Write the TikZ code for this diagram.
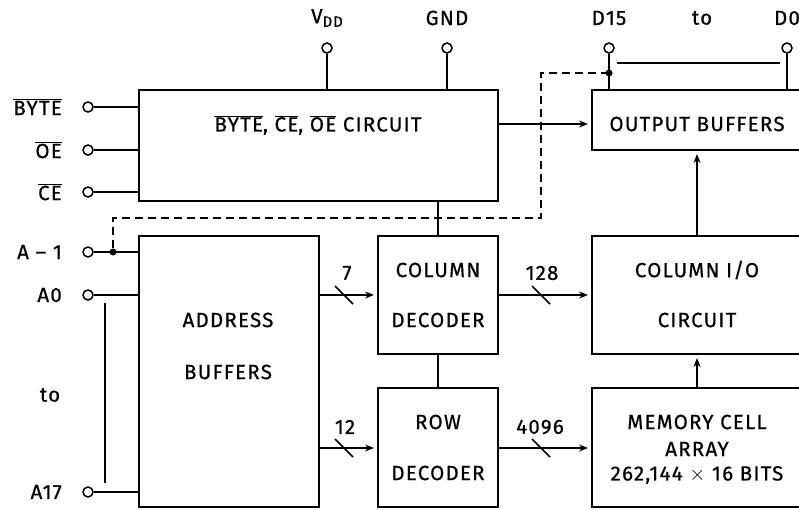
\documentclass[tikz,border=0pt]{standalone}
\usepackage{fontspec}
\setmainfont{Fira Sans}[LetterSpace=6,FakeBold=0.6]
\usetikzlibrary{arrows.meta,calc}
\newcommand{\olx}[1]{\ensuremath{\overline{\hbox{#1}}}}
\begin{document}
\begin{tikzpicture}[x=1pt,y=-1pt,
  every node/.style={font=\fontsize{20.5}{22}\selectfont},
  blk/.style={draw,line width=2pt,rectangle,inner sep=0pt},
  txt/.style={inner sep=0pt,anchor=center},
  lbl/.style={inner sep=0pt,anchor=east},
  pin/.style={draw,circle,fill=white,line width=1.5pt,minimum size=10pt,inner sep=0pt},
  wire/.style={line width=1.5pt},
  pinwire/.style={line width=2pt},
  arr/.style={line width=1.5pt,-{Stealth[length=9pt,width=7pt,inset=3pt]},shorten >=3pt},
  dashline/.style={line width=1.8pt,dash pattern=on 8pt off 5pt},
  slashmark/.style={line width=1.5pt},
  dot/.style={circle,fill=black,minimum size=7pt,inner sep=0pt}]
\useasboundingbox (0,0) rectangle (799,509);
\clip (0,0) rectangle (799,509);
\fill[white] (0,0) rectangle (799,509);

% blocks
\node[blk,minimum width=359pt,minimum height=111pt] (ctl) at (318.5,145.5) {};
\node[blk,minimum width=180pt,minimum height=271pt] (addr) at (229,371.5) {};
\node[blk,minimum width=120pt,minimum height=118pt] (cdec) at (438,295) {};
\node[blk,minimum width=120pt,minimum height=119pt] (rdec) at (438,447.5) {};
\node[blk,minimum width=210pt,minimum height=60pt] (obuf) at (697,120) {};
\node[blk,minimum width=210pt,minimum height=118pt] (cio) at (697,295) {};
\node[blk,minimum width=210pt,minimum height=119pt] (mem) at (697,447.5) {};

% block texts
\node[txt] (tctl) at (318,125) {\olx{BYTE}, \olx{CE}, \olx{OE} CIRCUIT};
\node[txt] (taddr1) at (228,320) {ADDRESS};
\node[txt] (taddr2) at (228,372) {BUFFERS};
\node[txt] (tcdec1) at (438,270) {COLUMN};
\node[txt] (tcdec2) at (438,320) {DECODER};
\node[txt] (trdec1) at (438,422) {ROW};
\node[txt] (trdec2) at (438,473) {DECODER};
\node[txt] (tobuf) at (697,124) {OUTPUT BUFFERS};
\node[txt] (tcio1) at (697,270) {COLUMN I/O};
\node[txt] (tcio2) at (697,320) {CIRCUIT};
\node[txt] (tmem1) at (697,422) {MEMORY CELL};
\node[txt] (tmem2) at (697,449) {ARRAY};
\node[txt] (tmem3) at (697,475) {262,144 $\times$ 16 BITS};

% top pins
\node[pin] (pvdd) at (327,48) {};
\node[pin] (pgnd) at (447,48) {};
\node[pin] (pd15) at (609,48) {};
\node[pin] (pd0) at (787,48) {};
\node[txt] (lvdd) at (327,18) {V\raisebox{-3.5pt}{\fontsize{15}{15}\selectfont DD}};
\node[txt] (lgnd) at (447,18) {GND};
\node[txt] (ld15) at (609,18) {D15};
\node[txt] (lto1) at (702,18) {to};
\node[txt] (ld0) at (787,18) {D0};
\draw[pinwire] (pvdd.south) -- (pvdd |- ctl.north);
\draw[pinwire] (pgnd.south) -- (pgnd |- ctl.north);
\draw[pinwire] (pd15.south) -- (pd15 |- obuf.north);
\draw[pinwire] (pd0.south) -- (pd0 |- obuf.north);
\coordinate (busL) at (617,63);
\coordinate (busR) at (780,63);
\draw[wire] (busL) -- (busR);

% left pins
\node[pin] (pbyte) at (88,107) {};
\node[pin] (poe) at (88,150) {};
\node[pin] (pce) at (88,192) {};
\node[pin] (pam1) at (88,252) {};
\node[pin] (pa0) at (88,295) {};
\node[pin] (pa17) at (88,492) {};
\node[lbl] (lbyte) at (62,107) {\olx{BYTE}};
\node[lbl] (loe) at (62,150) {\olx{OE}};
\node[lbl] (lce) at (62,192) {\olx{CE}};
\node[lbl] (lam1) at (62,252) {A – 1};
\node[lbl] (la0) at (62,295) {A0};
\node[txt] (lto2) at (50,395) {to};
\node[lbl] (la17) at (62,492) {A17};
\draw[wire] (pbyte.east) -- (pbyte -| ctl.west);
\draw[wire] (poe.east) -- (poe -| ctl.west);
\draw[wire] (pce.east) -- (pce -| ctl.west);
\draw[wire] (pam1.east) -- (pam1 -| addr.west);
\draw[wire] (pa0.east) -- (pa0 -| addr.west);
\draw[wire] (pa17.east) -- (pa17 -| addr.west);
\coordinate (rngT) at (105,303);
\coordinate (rngB) at (105,483);
\draw[wire] (rngT) -- (rngB);

% dashed byte line
\node[dot] (dd15) at (609,73) {};
\node[dot] (dam1) at (113,252) {};
\draw[dashline] (dd15.center) -- (541,73) -- (541,218) -- (113,218) -- (dam1.center);

% internal connections
\draw[arr] (ctl.east |- tobuf) -- (obuf.west |- tobuf);
\draw[wire] (ctl.south -| cdec) -- (cdec.north);
\draw[wire] (cdec.south) -- (rdec.north);
\draw[arr] (addr.east |- cdec) -- (cdec.west);
\draw[arr] (addr.east |- 0,448) -- (rdec.west |- 0,448);
\draw[arr] (cdec.east) -- (cio.west);
\draw[arr] (rdec.east |- 0,448) -- (mem.west |- 0,448);
\draw[arr] (mem.north) -- (cio.south);
\draw[arr] (cio.north) -- (obuf.south);

% bus widths
\draw[slashmark] (335,286) -- (353,304);
\draw[slashmark] (335,439) -- (353,457);
\draw[slashmark] (532,286) -- (550,304);
\draw[slashmark] (532,439) -- (550,457);
\node[txt] (w7) at (347,273) {7};
\node[txt] (w12) at (345,427) {12};
\node[txt] (w128) at (542,273) {128};
\node[txt] (w4096) at (540,427) {4096};
\end{tikzpicture}
\end{document}
